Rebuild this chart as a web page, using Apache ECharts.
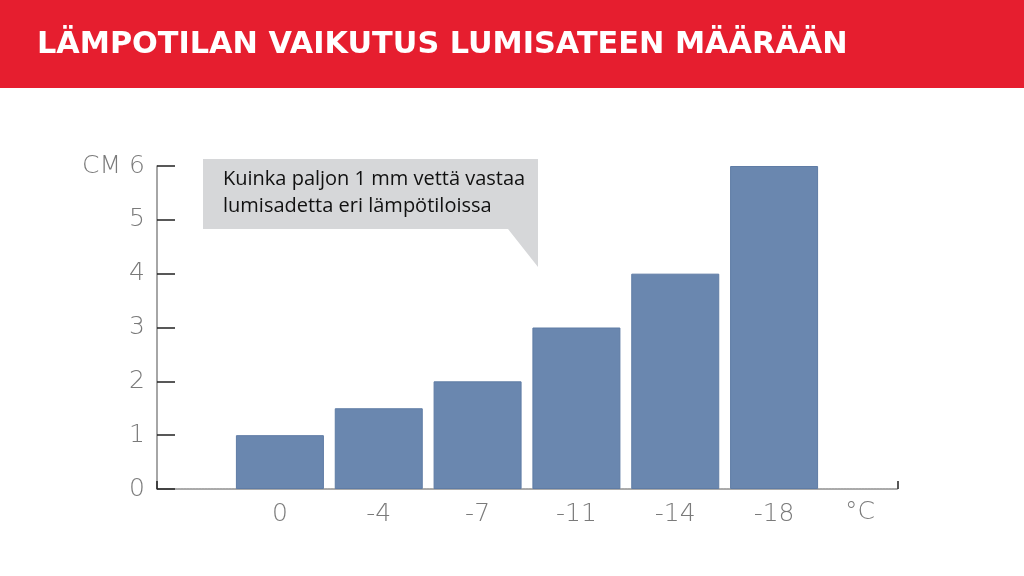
<!DOCTYPE html>
<html><head><meta charset="utf-8">
<script src="https://cdn.jsdelivr.net/npm/echarts@6/dist/echarts.min.js"></script>
<style>html,body{margin:0;padding:0;background:#fff}#c{width:1024px;height:576px}</style>
</head><body><div id="c"></div>
<script>
const titleText = 'LÄMPOTILAN VAIKUTUS LUMISATEEN MÄÄRÄÄN';
const noteLines = ['Kuinka paljon 1 mm vettä vastaa', 'lumisadetta eri lämpötiloissa'];
const categories = ['0', '-4', '-7', '-11', '-14', '-18'];
const snowCm = [1, 1.5, 2, 3, 4, 6];
const yTicks = [0, 1, 2, 3, 4, 5, 6];
const yUnit = 'CM';
const xUnit = '°C';

const chart = echarts.init(document.getElementById('c'));
const labelFont = {color: '#7a7a7a', fontSize: 25, fontFamily: 'DejaVu Sans', fontWeight: 200};
chart.setOption({
  animation: false,
  grid: [
    {left: 157, right: 126, top: 166, bottom: 87},
    {left: 230.5, right: 200.5, top: 166, bottom: 87}
  ],
  xAxis: [
    {gridIndex: 0, type: 'value', min: 0, max: 1, interval: 1,
     axisLine: {show: true, lineStyle: {color: '#aaaaaa', width: 2, type: [2, 1]}},
     axisTick: {show: true, inside: true, length: 8, lineStyle: {color: '#222', width: 1.5}},
     axisLabel: {show: false}, splitLine: {show: false}},
    {gridIndex: 1, type: 'category', data: categories,
     axisLine: {show: false}, axisTick: {show: false},
     axisLabel: Object.assign({margin: 13}, labelFont)}
  ],
  yAxis: [
    {gridIndex: 0, type: 'value', min: yTicks[0], max: yTicks[yTicks.length - 1], interval: 1,
     axisLine: {show: true, lineStyle: {color: '#888', width: 1.5}},
     axisTick: {show: true, inside: true, length: 18, lineStyle: {color: '#222', width: 1.5}},
     splitLine: {show: false},
     axisLabel: Object.assign({margin: 12, padding: [6, 0, 0, 0], formatter: v => v === yTicks[yTicks.length - 1] ? yUnit + ' ' + v : String(v)}, labelFont)},
    {gridIndex: 1, type: 'value', min: 0, max: 6, show: false}
  ],
  series: [{
    type: 'bar', xAxisIndex: 1, yAxisIndex: 1, data: snowCm,
    barWidth: 88,
    itemStyle: {color: '#6a87af', borderColor: '#5f7ca5', borderWidth: 1}
  }],
  graphic: [
    {type: 'rect', shape: {x: 0, y: 0, width: 1024, height: 88}, style: {fill: '#e61e2f'}},
    {type: 'text', left: 37, top: 30, style: {text: titleText, fill: '#fff', font: 'bold 30.3px "DejaVu Sans", sans-serif'}},
    {type: 'polygon', shape: {points: [[203, 159], [538, 159], [538, 267], [508, 229], [203, 229]]}, style: {fill: '#d6d7d9'}},
    {type: 'text', left: 223, top: 166, style: {text: noteLines.join('\n'), fill: '#111', font: '20px "Open Sans", sans-serif', lineHeight: 27}},
    {type: 'text', left: 845, top: 500, style: {text: xUnit, fill: '#7a7a7a', font: '200 25px "DejaVu Sans", sans-serif'}}
  ]
});
</script></body></html>
